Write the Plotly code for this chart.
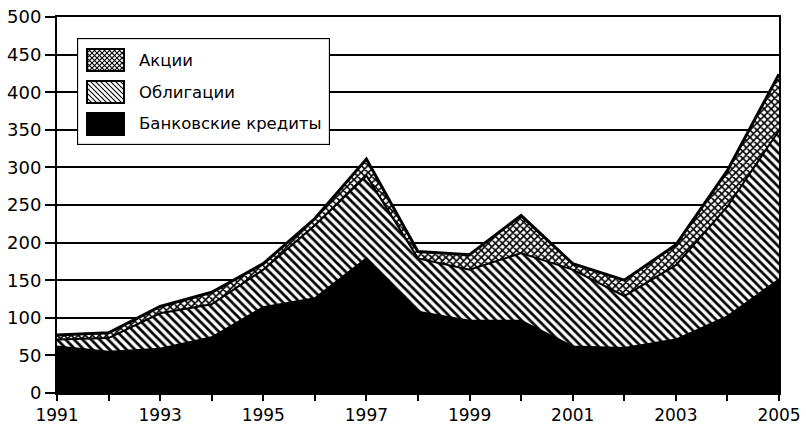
import base64
import plotly.graph_objects as go

years = list(range(1991, 2006))
tick_labels = [str(y) if y % 2 == 1 else "" for y in years]

bank_credits = [62, 55, 59, 74, 114, 126, 179, 108, 96, 96, 62, 60, 71, 102, 151]
bonds = [9, 18, 47, 44, 50, 97, 110, 71, 68, 90, 102, 69, 99, 146, 198]
stocks = [6, 7, 9, 16, 8, 9, 22, 9, 20, 50, 8, 21, 27, 48, 75]

names = ["Банковские кредиты", "Облигации", "Акции"]
legend_order = ["Акции", "Облигации", "Банковские кредиты"]

FONT = "DejaVu Sans"
W, H = 806, 427
ML, MR, MT, MB = 57, 27, 17, 34
PW, PH = W - ML - MR, H - MT - MB

fig = go.Figure()
fig.add_trace(go.Scatter(
    x=years, y=bank_credits, name=names[0], stackgroup="s", mode="lines",
    line=dict(color="black", width=2), fillcolor="black",
))
fig.add_trace(go.Scatter(
    x=years, y=bonds, name=names[1], stackgroup="s", mode="lines",
    line=dict(color="black", width=2),
    fillpattern=dict(shape="\\", fgcolor="black", bgcolor="white", size=6, solidity=0.45, fillmode="replace"),
))
fig.add_trace(go.Scatter(
    x=years, y=stocks, name=names[2], stackgroup="s", mode="lines",
    line=dict(color="black", width=3),
    fillpattern=dict(shape="x", fgcolor="black", bgcolor="white", size=5, solidity=0.55, fillmode="replace"),
))

# ---- custom legend box (white frame + hatched swatches) as an SVG image ----
legend_svg = """<svg xmlns='http://www.w3.org/2000/svg' width='253' height='107' viewBox='0 0 253 107'>
<defs>
<pattern id='d' patternUnits='userSpaceOnUse' width='5' height='5'>
<rect width='5' height='5' fill='white'/>
<path d='M-1,-1 L6,6 M-1,4 L1,6 M4,-1 L6,1' stroke='black' stroke-width='1.1'/>
</pattern>
<pattern id='x' patternUnits='userSpaceOnUse' width='5' height='5'>
<rect width='5' height='5' fill='white'/>
<path d='M-1,-1 L6,6 M-1,6 L6,-1' stroke='black' stroke-width='1.1'/>
</pattern>
</defs>
<rect x='0.5' y='0.5' width='252' height='106' fill='white' stroke='black' stroke-width='1.3'/>
<rect x='10' y='11' width='37' height='22' fill='url(#x)' stroke='black' stroke-width='2'/>
<rect x='10' y='43' width='37' height='22' fill='url(#d)' stroke='black' stroke-width='2'/>
<rect x='10' y='75' width='37' height='22' fill='black' stroke='black' stroke-width='2'/>
</svg>"""
legend_src = "data:image/svg+xml;base64," + base64.b64encode(legend_svg.encode("utf-8")).decode("ascii")

fig.add_layout_image(dict(
    source=legend_src, xref="paper", yref="paper",
    x=20 / PW, y=1 - 21 / PH, sizex=253 / PW, sizey=107 / PH,
    xanchor="left", yanchor="top", sizing="stretch", layer="above",
))

row_offsets = [43, 75, 107]
for label, off in zip(legend_order, row_offsets):
    fig.add_annotation(
        text=label, xref="paper", yref="paper", x=80 / PW, y=1 - off / PH,
        xanchor="left", yanchor="middle", showarrow=False,
        font=dict(family=FONT, size=16.5, color="black"),
    )

fig.update_layout(
    width=W, height=H,
    margin=dict(l=ML, r=MR, t=MT, b=MB, autoexpand=False),
    paper_bgcolor="white", plot_bgcolor="white",
    font=dict(family=FONT, size=17, color="black"),
    showlegend=False,
    xaxis=dict(
        range=[1991, 2005], tickmode="array", tickvals=years, ticktext=tick_labels,
        automargin=False,
        showgrid=False, showline=True, linecolor="black", linewidth=2, mirror=True,
        ticks="outside", ticklen=6, tickwidth=1.5, tickcolor="black", zeroline=False,
        tickfont=dict(family=FONT, size=17, color="black"),
    ),
    yaxis=dict(
        range=[0, 500], dtick=50, tick0=0, automargin=False,
        showgrid=True, gridcolor="black", gridwidth=1.5,
        showline=True, linecolor="black", linewidth=2, mirror=True,
        ticks="outside", ticklen=10, tickwidth=1.5, tickcolor="black", zeroline=False,
        tickfont=dict(family=FONT, size=18, color="black"),
    ),
)

fig.write_html(
    "out.html",
    config={"displayModeBar": False},
    post_script="document.body.style.margin='0';document.body.style.padding='0';"
                "document.documentElement.style.overflow='hidden';",
)
